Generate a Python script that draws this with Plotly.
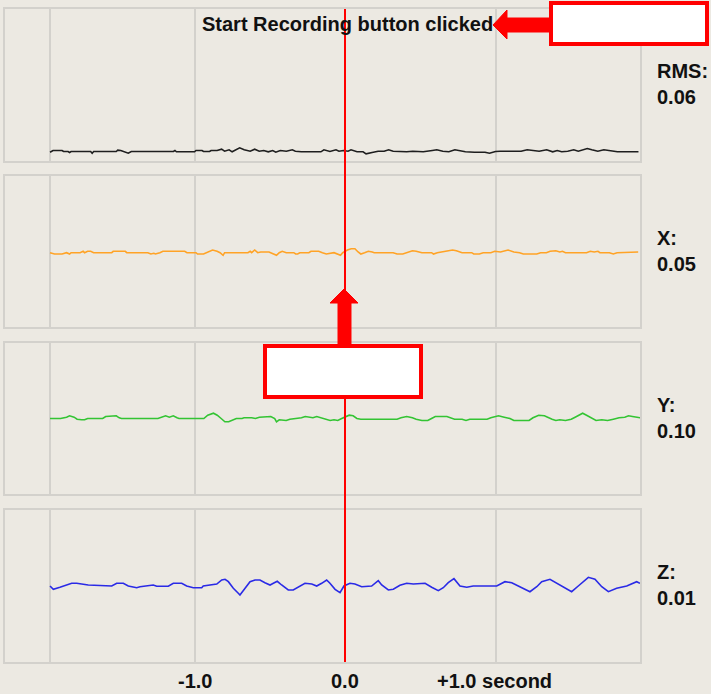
import plotly.graph_objects as go

W, H = 711, 694

# ---- data (time in seconds relative to the click, signal in g) ----
rms_t = [-1.96, -1.94, -1.88, -1.87, -1.84, -1.83, -1.82, -1.69, -1.68, -1.67, -1.52, -1.51, -1.49, -1.46,
         -1.44, -1.42, -1.14, -1.13, -1.12, -1.00, -0.99, -0.95, -0.94, -0.90, -0.89, -0.85, -0.82, -0.80,
         -0.77, -0.75, -0.72, -0.70, -0.67, -0.63, -0.60, -0.57, -0.54, -0.51, -0.48, -0.46, -0.43, -0.39,
         -0.35, -0.33, -0.29, -0.16, -0.14, -0.10, -0.06, -0.04, -0.01, 0.02, 0.04, 0.08, 0.12, 0.14, 0.18,
         0.22, 0.26, 0.29, 0.32, 0.36, 0.41, 0.45, 0.49, 0.52, 0.58, 0.61, 0.65, 0.69, 0.73, 0.77, 0.80,
         0.86, 0.93, 0.96, 1.00, 1.03, 1.11, 1.13, 1.17, 1.21, 1.24, 1.29, 1.34, 1.38, 1.41, 1.44, 1.48,
         1.52, 1.55, 1.58, 1.61, 1.64, 1.68, 1.72, 1.75, 1.78, 1.81, 1.85, 1.95]
rms_v = [0.088, 0.105, 0.105, 0.095, 0.095, 0.085, 0.095, 0.095, 0.078, 0.095, 0.095, 0.108, 0.105, 0.092,
         0.078, 0.095, 0.095, 0.105, 0.092, 0.092, 0.105, 0.105, 0.095, 0.095, 0.105, 0.105, 0.118, 0.098,
         0.112, 0.092, 0.118, 0.132, 0.112, 0.098, 0.118, 0.098, 0.105, 0.092, 0.105, 0.088, 0.105, 0.098,
         0.112, 0.098, 0.092, 0.092, 0.112, 0.095, 0.112, 0.098, 0.105, 0.098, 0.112, 0.092, 0.092, 0.072,
         0.085, 0.098, 0.098, 0.112, 0.098, 0.092, 0.092, 0.098, 0.098, 0.092, 0.105, 0.112, 0.098, 0.092,
         0.112, 0.098, 0.092, 0.088, 0.088, 0.078, 0.095, 0.098, 0.098, 0.092, 0.098, 0.112, 0.105, 0.098,
         0.112, 0.092, 0.105, 0.092, 0.098, 0.112, 0.098, 0.112, 0.125, 0.112, 0.098, 0.112, 0.105, 0.092,
         0.092, 0.092, 0.092]

x_t = [-1.96, -1.93, -1.88, -1.85, -1.83, -1.82, -1.76, -1.74, -1.73, -1.71, -1.69, -1.67, -1.55, -1.54,
       -1.46, -1.45, -1.31, -1.29, -1.27, -1.26, -1.23, -1.21, -1.065, -1.05, -0.99, -0.98, -0.94, -0.91,
       -0.88, -0.85, -0.83, -0.81, -0.80, -0.645, -0.63, -0.62, -0.60, -0.58, -0.56, -0.505, -0.48, -0.455,
       -0.437, -0.417, -0.39, -0.34, -0.328, -0.315, -0.30, -0.24, -0.226, -0.175, -0.15, -0.124, -0.073,
       -0.048, -0.030, -0.015, 0.016, 0.041, 0.066, 0.087, 0.105, 0.130, 0.155, 0.181, 0.194, 0.32, 0.346,
       0.384, 0.41, 0.448, 0.473, 0.511, 0.575, 0.588, 0.613, 0.677, 0.715, 0.74, 0.778, 0.842, 0.855,
       0.893, 0.918, 0.969, 0.995, 1.033, 1.083, 1.122, 1.16, 1.185, 1.274, 1.30, 1.338, 1.363, 1.401,
       1.427, 1.445, 1.465, 1.605, 1.63, 1.656, 1.681, 1.694, 1.757, 1.783, 1.808, 1.884, 1.948]
x_v = [-0.012, -0.025, -0.025, -0.012, -0.025, -0.012, -0.012, 0.002, -0.012, 0.002, 0.002, -0.012, -0.012,
       0.002, 0.002, -0.012, -0.012, -0.025, -0.018, -0.025, -0.012, 0.002, 0.002, -0.012, -0.012, -0.025,
       -0.025, -0.005, 0.015, 0.002, -0.012, -0.038, -0.012, -0.012, 0.002, -0.012, 0.015, -0.012, -0.005,
       -0.005, -0.018, -0.038, -0.012, 0.002, -0.012, -0.012, -0.025, -0.025, -0.012, -0.012, 0.002, 0.002,
       -0.012, -0.025, -0.012, -0.025, -0.038, -0.012, 0.015, 0.028, 0.028, -0.005, -0.025, -0.012, 0.002,
       -0.005, -0.012, -0.012, -0.025, -0.025, -0.012, 0.008, 0.002, -0.012, -0.012, -0.025, -0.012, 0.002,
       0.015, 0.008, -0.012, -0.012, -0.025, -0.025, -0.012, -0.012, 0.002, -0.005, 0.015, -0.005, -0.012,
       -0.025, -0.025, -0.012, -0.012, 0.002, 0.008, -0.005, 0.002, -0.012, -0.012, 0.002, -0.005, 0.002,
       -0.012, -0.012, -0.025, -0.012, -0.005, -0.005]

y_t = [-1.96, -1.89, -1.85, -1.83, -1.80, -1.78, -1.75, -1.73, -1.71, -1.61, -1.59, -1.55, -1.52, -1.50,
       -1.485, -1.243, -1.218, -1.192, -1.167, -1.141, -1.116, -1.103, -0.938, -0.912, -0.874, -0.849,
       -0.823, -0.798, -0.773, -0.747, -0.722, -0.684, -0.671, -0.620, -0.595, -0.569, -0.531, -0.493,
       -0.467, -0.455, -0.437, -0.417, -0.391, -0.366, -0.328, -0.289, -0.264, -0.239, -0.213, -0.188,
       -0.162, -0.124, -0.099, -0.073, -0.048, -0.022, 0.003, 0.028, 0.054, 0.079, 0.105, 0.346, 0.372,
       0.410, 0.448, 0.473, 0.511, 0.550, 0.575, 0.600, 0.677, 0.702, 0.728, 0.778, 0.804, 0.829, 0.855,
       0.944, 0.969, 1.020, 1.058, 1.096, 1.122, 1.223, 1.249, 1.287, 1.325, 1.350, 1.376, 1.401, 1.427,
       1.465, 1.503, 1.529, 1.554, 1.579, 1.605, 1.643, 1.668, 1.706, 1.745, 1.783, 1.821, 1.859, 1.884,
       1.910, 1.935, 1.961]
y_v = [0.0, 0.0, 0.013, 0.027, 0.013, -0.007, -0.013, -0.013, 0.0, 0.0, 0.02, 0.027, 0.027, 0.007, 0.0,
       0.0, 0.013, 0.027, 0.013, 0.027, 0.007, 0.0, 0.0, 0.033, 0.053, 0.033, 0.0, -0.033, -0.033, -0.02,
       0.0, 0.0, 0.007, 0.007, 0.0, 0.013, 0.02, 0.02, 0.0, -0.033, -0.013, -0.013, -0.02, -0.007, 0.0,
       0.007, 0.02, 0.013, 0.007, 0.02, 0.007, -0.007, -0.02, -0.013, -0.02, 0.0, 0.013, 0.033, 0.027,
       0.0, -0.007, -0.007, 0.007, 0.02, 0.007, -0.007, -0.02, -0.02, 0.0, 0.02, 0.02, 0.007, -0.007,
       -0.007, -0.02, -0.007, -0.007, -0.007, 0.007, 0.027, 0.013, 0.0, -0.02, -0.02, 0.007, 0.033, 0.027,
       0.007, -0.007, -0.02, -0.013, -0.02, -0.007, 0.013, 0.033, 0.053, 0.033, 0.0, -0.02, -0.013, -0.02,
       -0.007, 0.007, 0.013, 0.027, 0.02, 0.013, 0.007]

z_t = [-1.96, -1.938, -1.894, -1.849, -1.816, -1.783, -1.706, -1.55, -1.517, -1.473, -1.44, -1.384, -1.362,
       -1.274, -1.251, -1.174, -1.141, -1.085, -1.052, -1.008, -0.952, -0.942, -0.897, -0.852, -0.819,
       -0.797, -0.775, -0.742, -0.709, -0.698, -0.664, -0.631, -0.598, -0.565, -0.532, -0.498, -0.476,
       -0.45, -0.421, -0.377, -0.344, -0.31, -0.266, -0.221, -0.188, -0.155, -0.122, -0.1, -0.066, -0.033,
       -0.007, 0.033, 0.066, 0.111, 0.177, 0.221, 0.244, 0.288, 0.321, 0.365, 0.41, 0.454, 0.532, 0.576,
       0.62, 0.653, 0.686, 0.724, 0.764, 0.809, 0.852, 1.008, 1.063, 1.108, 1.163, 1.229, 1.274, 1.307,
       1.362, 1.407, 1.462, 1.506, 1.55, 1.617, 1.661, 1.706, 1.75, 1.805, 1.872, 1.938, 1.96]
z_v = [0.0, -0.033, -0.013, 0.007, 0.027, 0.027, 0.01, 0.0, 0.027, 0.027, 0.0, -0.017, -0.007, 0.01,
       -0.003, -0.003, 0.027, 0.027, 0.0, -0.017, -0.017, 0.0, 0.007, 0.02, 0.06, 0.067, 0.043, -0.023,
       -0.073, -0.09, -0.023, 0.043, 0.06, 0.06, 0.033, 0.01, 0.027, 0.047, 0.01, -0.04, -0.04, -0.007,
       0.027, 0.02, 0.0, 0.027, 0.06, 0.027, -0.033, -0.067, 0.0, 0.027, 0.02, -0.007, 0.0, 0.053, 0.01,
       -0.04, -0.033, 0.007, 0.027, 0.02, 0.027, -0.013, -0.047, -0.017, 0.033, 0.073, 0.0, -0.013, 0.0,
       0.0, 0.043, 0.033, -0.007, -0.057, -0.007, 0.043, 0.067, 0.027, -0.023, -0.057, 0.0, 0.087, 0.067,
       -0.007, -0.057, -0.023, 0.0, 0.043, 0.027]

labels = ["RMS:", "X:", "Y:", "Z:"]
readouts = ["0.06", "0.05", "0.10", "0.01"]
tick_vals = [-1.0, 0.0, 1.0]
tick_text = ["-1.0", "0.0", "+1.0 second"]
event_text = "Start Recording button clicked"

# ---- styling ----
BG = "#ECE9E2"
GRID = "#D3D1CC"
FONT = "Liberation Sans"
colors = ["#1E1E1E", "#FFA326", "#33C433", "#2A2AE6"]
series = [(rms_t, rms_v), (x_t, x_v), (y_t, y_v), (z_t, z_v)]
y_ranges = [[0, 1.52], [-0.755, 0.755], [-0.755, 0.755], [-0.76, 0.76]]
panel_px = [(9, 161), (176, 327), (343, 494), (510, 662)]  # top, bottom in pixels
x_dom = [5 / W, 640 / W]
x_rng = [(5 - 345) / 150.5, (640 - 345) / 150.5]


def px(x):
    return x / W


def py(y):
    return 1 - y / H


fig = go.Figure()
layout = dict(width=W, height=H, margin=dict(l=0, r=0, t=0, b=0),
              paper_bgcolor=BG, plot_bgcolor=BG, showlegend=False,
              font=dict(family=FONT, size=20, color="#111111"))
annotations = []
for i, (t, v) in enumerate(series):
    n = "" if i == 0 else str(i + 1)
    top, bot = panel_px[i]
    fig.add_trace(go.Scatter(x=t, y=v, mode="lines", xaxis="x" + n, yaxis="y" + n,
                             line=dict(color=colors[i], width=1.6), hoverinfo="skip"))
    layout["xaxis" + n] = dict(domain=x_dom, range=x_rng, anchor="y" + n,
                               tickvals=[t[0]] + tick_vals, showticklabels=False, ticks="",
                               showgrid=True, gridcolor=GRID, gridwidth=2, zeroline=False,
                               showline=True, mirror=True, linecolor=GRID, linewidth=2)
    layout["yaxis" + n] = dict(domain=[py(bot), py(top)], range=y_ranges[i], anchor="x" + n,
                               showgrid=False, zeroline=False, showticklabels=False, ticks="",
                               showline=True, mirror=True, linecolor=GRID, linewidth=2)
    annotations.append(dict(x=px(655), y=py(top + 75), xref="paper", yref="paper",
                            text="<b>%s<br>%s</b>" % (labels[i], readouts[i]),
                            xanchor="left", yanchor="middle", align="left", showarrow=False))

# bottom time labels
annotations.append(dict(x=tick_vals[0], y=py(681), xref="x4", yref="paper", text="<b>" + tick_text[0] + "</b>",
                        xanchor="center", yanchor="middle", showarrow=False))
annotations.append(dict(x=tick_vals[1], y=py(681), xref="x4", yref="paper", text="<b>" + tick_text[1] + "</b>",
                        xanchor="center", yanchor="middle", showarrow=False))
annotations.append(dict(x=px(435), y=py(681), xref="paper", yref="paper", text="<b>" + tick_text[2] + "</b>",
                        xanchor="left", yanchor="middle", showarrow=False))
# event text
annotations.append(dict(x=px(200), y=py(24), xref="paper", yref="paper", text="<b>" + event_text + "</b>",
                        xanchor="left", yanchor="middle", showarrow=False))

shapes = [
    # red marker at t = 0
    dict(type="line", xref="x", yref="paper", x0=0, x1=0, y0=py(662), y1=py(9),
         line=dict(color="#FF0000", width=2), layer="above"),
    # callout boxes
    dict(type="rect", xref="paper", yref="paper", x0=px(551), x1=px(707), y0=py(44), y1=py(3),
         fillcolor="white", line=dict(color="#FF0000", width=4), layer="above"),
    dict(type="rect", xref="paper", yref="paper", x0=px(265), x1=px(421), y0=py(397), y1=py(346),
         fillcolor="white", line=dict(color="#FF0000", width=4), layer="above"),
]
# block arrow pointing left to the text
pts = [(493, 25), (507, 10), (507, 18), (551, 18), (551, 32), (507, 32), (507, 39)]
shapes.append(dict(type="path", xref="paper", yref="paper", layer="above",
                   path="M " + " L ".join("%.5f,%.5f" % (px(a), py(b)) for a, b in pts) + " Z",
                   fillcolor="#FF0000", line=dict(color="#FF0000", width=1)))
# block arrow pointing up at the marker
pts = [(344, 289), (358, 303), (351, 303), (351, 346), (338, 346), (338, 303), (330, 303)]
shapes.append(dict(type="path", xref="paper", yref="paper", layer="above",
                   path="M " + " L ".join("%.5f,%.5f" % (px(a), py(b)) for a, b in pts) + " Z",
                   fillcolor="#FF0000", line=dict(color="#FF0000", width=1)))

layout["annotations"] = annotations
layout["shapes"] = shapes
fig.update_layout(**layout)
# drop the default page margin so the figure sits at the window's top-left corner
fig.write_html("out.html", config={"displayModeBar": False},
               post_script="document.body.style.margin='0';")
